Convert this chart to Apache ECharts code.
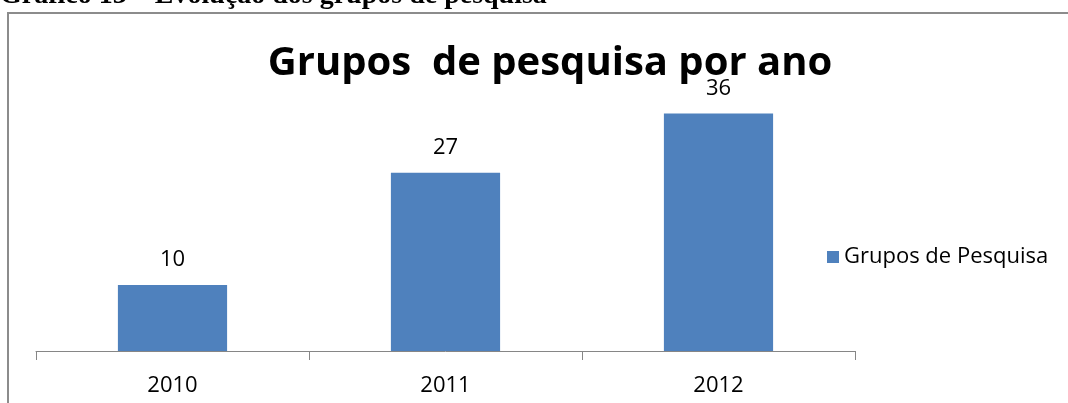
<!DOCTYPE html>
<html>
<head>
<meta charset="utf-8">
<script src="https://cdn.jsdelivr.net/npm/echarts@6/dist/echarts.min.js"></script>
<style>
  html, body { margin: 0; padding: 0; background: #fff; }
  #chart { width: 1068px; height: 403px; }
</style>
</head>
<body>
<div id="chart"></div>
<script>
// dados
const anos = ['2010', '2011', '2012']
const grupos = [10, 27, 36]
const nomeSerie = 'Grupos de Pesquisa'
const titulo = 'Grupos  de pesquisa por ano'
const legenda = 'Gráfico 13 – Evolução dos grupos de pesquisa'

const chart = echarts.init(document.getElementById('chart'))

chart.setOption({
  animation: false,
  title: {
    text: titulo,
    left: 545,
    textAlign: 'center',
    top: 39,
    textStyle: {
      fontFamily: 'Open Sans',
      fontWeight: 'bold',
      fontSize: 40,
      color: '#000'
    }
  },
  graphic: [
    {
      type: 'text',
      x: 0,
      y: 10,
      style: {
        text: legenda,
        font: 'bold 28px "Liberation Serif"',
        fill: '#000',
        verticalAlign: 'bottom'
      }
    },
    {
      type: 'rect',
      shape: { x: 8, y: 13, width: 1100, height: 420 },
      style: { fill: 'none', stroke: '#8c8c8c', lineWidth: 2 },
      z: -1
    }
  ],
  legend: {
    data: [nomeSerie],
    left: 822,
    top: 241,
    itemWidth: 12,
    itemHeight: 12,
    itemGap: 8,
    icon: 'rect',
    textStyle: { fontFamily: 'Open Sans', fontSize: 22, color: '#000' }
  },
  grid: {
    left: 36,
    right: 213,
    top: 87,
    bottom: 52
  },
  xAxis: {
    type: 'category',
    data: anos,
    axisLine: { lineStyle: { color: '#868686', width: 1 } },
    axisTick: { show: true, length: 9, lineStyle: { color: '#868686' } },
    axisLabel: {
      fontFamily: 'Open Sans',
      fontSize: 22,
      color: '#000',
      margin: 24
    }
  },
  yAxis: {
    type: 'value',
    min: 0,
    max: 40,
    show: false,
    splitLine: { show: false }
  },
  series: [
    {
      name: nomeSerie,
      type: 'bar',
      data: grupos,
      barWidth: '40%',
      itemStyle: { color: '#4f81bd' },
      label: {
        show: true,
        position: 'top',
        distance: 14,
        fontFamily: 'Open Sans',
        fontSize: 22,
        color: '#000'
      }
    }
  ]
})
</script>
</body>
</html>
